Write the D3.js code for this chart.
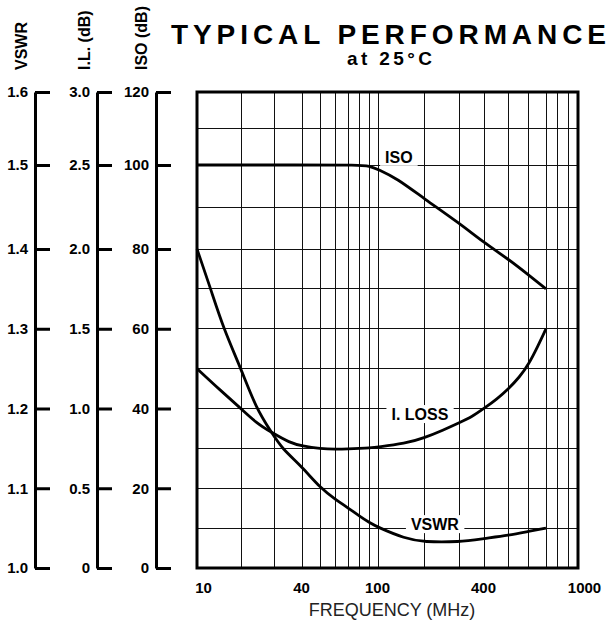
<!DOCTYPE html>
<html>
<head>
<meta charset="utf-8">
<script src="https://cdn.jsdelivr.net/npm/d3@7"></script>
<style>
  html, body { margin: 0; padding: 0; background: #fff; }
  svg { display: block; font-family: "Liberation Sans", Arial, Helvetica, sans-serif; }
</style>
</head>
<body>
<svg id="chart" width="610" height="622"></svg>
<script>
// ---------- DATA ----------
const isoFreq = [10, 40, 80, 90, 100, 133, 200, 300, 400, 500, 600, 700];
const isoVals = [100, 100, 100, 99.8, 99, 96.8, 92, 86.2, 81.5, 77.4, 73.4, 70];

const ilFreq = [10, 14.4, 20, 24.1, 29.1, 35.3, 40, 50, 60, 70, 80, 90, 100, 150, 200, 250, 300, 350, 400, 450, 500, 550, 600, 650, 700];
const ilVals = [1.25, 1.115, 1.0, 0.91, 0.85, 0.785, 0.765, 0.748, 0.745, 0.747, 0.75, 0.753, 0.758, 0.78, 0.815, 0.865, 0.91, 0.95, 1.0, 1.06, 1.125, 1.195, 1.28, 1.39, 1.5];

const vswrFreq = [10, 12.4, 15.2, 20, 24.1, 29.1, 32.5, 40, 50, 60, 70, 80, 90, 100, 150, 200, 300, 400, 500, 600, 700];
const vswrVals = [1.40, 1.35, 1.30, 1.25, 1.20, 1.17, 1.15, 1.127, 1.10, 1.086, 1.075, 1.065, 1.057, 1.051, 1.037, 1.0325, 1.0325, 1.037, 1.041, 1.046, 1.05];

const xTickVals = [10, 40, 100, 400, 1000];
const xGridVals = [20, 30, 40, 50, 60, 70, 80, 90, 100, 200, 300, 400, 500, 600, 700, 800, 900];
const isoTicks = [0, 20, 40, 60, 80, 100, 120];
const ilTicks = [0, 0.5, 1.0, 1.5, 2.0, 2.5, 3.0];
const vswrTicks = [1.0, 1.1, 1.2, 1.3, 1.4, 1.5, 1.6];
const yGridVals = [10, 20, 30, 40, 50, 60, 70, 80, 90, 100, 110];

const labelNames = ["ISO", "I. LOSS", "VSWR"];
const labelFreq = [137, 188, 227];
const labelIso = [100.6, 37.1, 9.5];

// ---------- SCALES ----------
const svg = d3.select("#chart");
// the printed chart's frequency grid is not a perfect log grid: piecewise log scale
const x = d3.scaleLog()
  .domain([10, 20, 30, 40, 100, 200, 300, 400, 700, 1000])
  .range([197, 241, 274, 302, 378, 424, 459, 484, 546, 578]);
const y = d3.scaleLinear().domain([0, 80, 100, 120]).range([568, 249, 165, 92]);
const yIL = y.copy().domain([0, 2.0, 2.5, 3.0]);
const yVS = y.copy().domain([1.0, 1.4, 1.5, 1.6]);

// ---------- TITLE ----------
svg.append("text").attr("x", 171).attr("y", 44)
  .attr("font-size", 28).attr("font-weight", "bold")
  .attr("textLength", 435).attr("lengthAdjust", "spacing")
  .text("TYPICAL PERFORMANCE");
svg.append("text").attr("x", 347).attr("y", 65)
  .attr("font-size", 19).attr("font-weight", "bold")
  .attr("textLength", 85).attr("lengthAdjust", "spacing")
  .text("at 25°C");

// ---------- GRID ----------
const grid = svg.append("g").attr("stroke", "#111").attr("stroke-width", 1).attr("shape-rendering", "crispEdges");
grid.selectAll("line.v").data(xGridVals).join("line")
  .attr("x1", d => x(d)).attr("x2", d => x(d))
  .attr("y1", y(120)).attr("y2", y(0));
grid.selectAll("line.h").data(yGridVals).join("line")
  .attr("x1", x(10)).attr("x2", x(1000))
  .attr("y1", d => y(d)).attr("y2", d => y(d));

// label backgrounds (after grid), texts raised later
const labelG = svg.append("g");
const labelTexts = labelNames.map((n, i) => {
  return svg.append("text")
    .attr("x", x(labelFreq[i])).attr("y", y(labelIso[i]))
    .attr("text-anchor", "middle").attr("font-size", 16).attr("font-weight", "bold")
    .text(n);
});
labelTexts.forEach(t => {
  const b = t.node().getBBox();
  labelG.append("rect").attr("x", b.x - 5).attr("y", b.y - 1)
    .attr("width", b.width + 10).attr("height", b.height + 1).attr("fill", "#fff");
});

// ---------- FRAME ----------
svg.append("rect")
  .attr("x", x(10)).attr("y", y(120))
  .attr("width", x(1000) - x(10)).attr("height", y(0) - y(120))
  .attr("fill", "none").attr("stroke", "#000").attr("stroke-width", 3);

// ---------- CURVES ----------
const curves = svg.append("g").attr("fill", "none").attr("stroke", "#000").attr("stroke-width", 2.8).attr("stroke-linejoin", "round");
const isoLine = d3.line().x((d, i) => x(isoFreq[i])).y(d => y(d)).curve(d3.curveBasis);
const ilLine = d3.line().x((d, i) => x(ilFreq[i])).y(d => yIL(d)).curve(d3.curveBasis);
const vsLine = d3.line().x((d, i) => x(vswrFreq[i])).y(d => yVS(d)).curve(d3.curveBasis);
curves.append("path").attr("d", isoLine(isoVals));
curves.append("path").attr("d", ilLine(ilVals));
curves.append("path").attr("d", vsLine(vswrVals));

labelTexts.forEach(t => t.raise());

// ---------- LEFT AXES ----------
function styleAxis(g) {
  g.select(".domain").attr("stroke", "#000").attr("stroke-width", 3);
  g.selectAll(".tick line").attr("stroke", "#000").attr("stroke-width", 3);
  g.selectAll(".tick text").attr("x", -7).attr("text-anchor", "end")
    .attr("font-size", 15).attr("font-weight", "bold").attr("fill", "#000")
    .attr("font-family", "Liberation Sans, Arial, sans-serif");
}
const gV = svg.append("g").attr("transform", "translate(35,0)")
  .call(d3.axisRight(yVS).tickValues(vswrTicks).tickSize(15).tickSizeOuter(0).tickFormat(d3.format(".1f")));
styleAxis(gV);
const gI = svg.append("g").attr("transform", "translate(97,0)")
  .call(d3.axisRight(yIL).tickValues(ilTicks).tickSize(15).tickSizeOuter(0).tickFormat(d => d === 0 ? "0" : d.toFixed(1)));
styleAxis(gI);
const gS = svg.append("g").attr("transform", "translate(156,0)")
  .call(d3.axisRight(y).tickValues(isoTicks).tickSize(15).tickSizeOuter(0).tickFormat(d3.format("d")));
styleAxis(gS);

// rotated axis titles
[["VSWR", 27], ["I.L. (dB)", 90], ["ISO (dB)", 147]].forEach(([t, px]) => {
  svg.append("text").attr("transform", `translate(${px},70) rotate(-90)`)
    .attr("font-size", 16).attr("font-weight", "bold").text(t);
});

// ---------- BOTTOM AXIS ----------
const gX = svg.append("g").attr("transform", "translate(0,593)")
  .call(d3.axisBottom(x).tickValues(xTickVals).tickSize(0).tickFormat(d3.format("d")));
gX.select(".domain").remove();
gX.selectAll(".tick text").attr("y", 0).attr("dy", 0)
  .attr("font-size", 15).attr("font-weight", "bold").attr("fill", "#000")
  .attr("font-family", "Liberation Sans, Arial, sans-serif")
  .attr("dx", (d, i) => (i === 0 || i === xTickVals.length - 1) ? 6 : -1);

svg.append("text").attr("x", 392).attr("y", 616).attr("text-anchor", "middle")
  .attr("font-size", 18).attr("fill", "#222").text("FREQUENCY (MHz)");
</script>
</body>
</html>
